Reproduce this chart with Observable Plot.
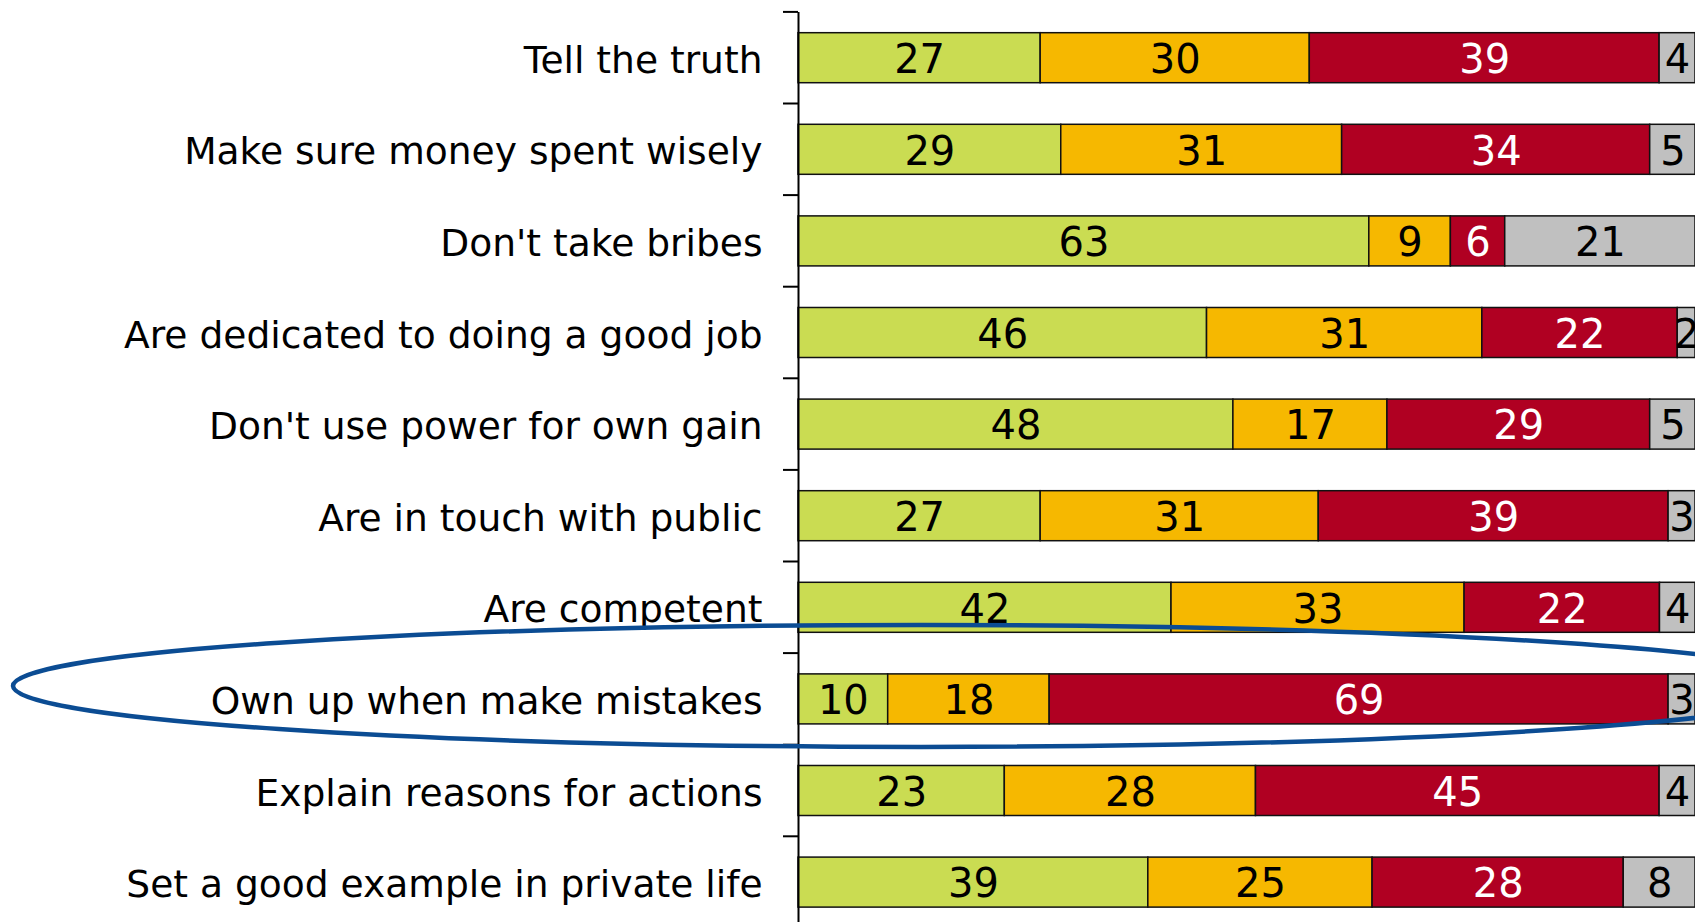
<!DOCTYPE html>
<html>
<head>
<meta charset="utf-8">
<script src="https://cdn.jsdelivr.net/npm/d3@7"></script>
<script src="https://cdn.jsdelivr.net/npm/@observablehq/plot@0.6"></script>
<style>
  html, body { margin: 0; padding: 0; background: #fff; overflow: hidden; }
</style>
</head>
<body>
<div id="chart"></div>
<script>
// ---- data ----
const categories = [
  "Tell the truth",
  "Make sure money spent wisely",
  "Don't take bribes",
  "Are dedicated to doing a good job",
  "Don't use power for own gain",
  "Are in touch with public",
  "Are competent",
  "Own up when make mistakes",
  "Explain reasons for actions",
  "Set a good example in private life"
];
const seriesNames = ["All / most", "Some", "Few / none", "Don't know"];
const allMost  = [27, 29, 63, 46, 48, 27, 42, 10, 23, 39];
const some     = [30, 31,  9, 31, 17, 31, 33, 18, 28, 25];
const fewNone  = [39, 34,  6, 22, 29, 39, 22, 69, 45, 28];
const dontKnow = [ 4,  5, 21,  2,  5,  3,  4,  3,  4,  8];
const highlighted = "Own up when make mistakes";

// ---- styles ----
const seriesValues = [allMost, some, fewNone, dontKnow];
const fills = ["#CADC52", "#F6B800", "#B00022", "#C0C0C0"];
const labelFills = ["#000", "#000", "#fff", "#000"];
const FONT = "DejaVu Sans";

const rows = seriesNames.flatMap((s, i) =>
  categories.map((c, j) => ({category: c, series: s, si: i, value: seriesValues[i][j]}))
);

// ticks between bands (at each band's top edge)
function bandTicks(index, scales) {
  const y = scales.y, x = scales.x;
  const bw = y.bandwidth();
  const r = y.range();
  const step = y.step ? y.step() : (r[1] - r[0]) / categories.length;
  const g = d3.create("svg:g").attr("stroke", "#000").attr("stroke-width", 2);
  for (const c of categories) {
    const yy = y(c) - (step - bw) / 2;
    g.append("line")
      .attr("x1", x(0) - 15).attr("x2", x(0))
      .attr("y1", yy).attr("y2", yy);
  }
  return g.node();
}

// blue ellipse annotation around the highlighted row
function highlight(index, scales) {
  const y = scales.y, x = scales.x;
  const cy = y(highlighted) + y.bandwidth() / 2 - 13;
  return d3.create("svg:ellipse")
    .attr("cx", x(0) + 123).attr("cy", cy)
    .attr("rx", 908).attr("ry", 61)
    .attr("fill", "none")
    .attr("stroke", "#0B4C93")
    .attr("stroke-width", 4.5)
    .node();
}

const chart = Plot.plot({
  width: 1695,
  height: 922,
  marginLeft: 798,
  marginRight: 0,
  marginTop: 12,
  marginBottom: 0,
  style: {fontFamily: FONT, background: "white", color: "black"},
  x: {axis: null, domain: [0, 1]},
  y: {domain: categories, range: [11.9, 927.9], paddingInner: 0.454, paddingOuter: 0.227, round: false, label: null},
  color: {type: "identity"},
  marks: [
    Plot.barX(rows, Plot.stackX({
      x: "value", y: "category", z: "series", offset: "normalize",
      fill: d => fills[d.si], stroke: "#111", strokeWidth: 1.5
    })),
    Plot.text(rows, Plot.stackX({
      x: "value", y: "category", z: "series", offset: "normalize",
      text: d => String(d.value), fill: d => labelFills[d.si],
      fontSize: 40, dy: 2
    })),
    Plot.axisY({tickSize: 0, tickPadding: 36, fontSize: 37.6, dy: 2.5, fill: "#000", label: null}),
    Plot.ruleX([0], {stroke: "#000", strokeWidth: 2}),
    bandTicks,
    highlight
  ]
});

document.getElementById("chart").appendChild(chart);
</script>
</body>
</html>
